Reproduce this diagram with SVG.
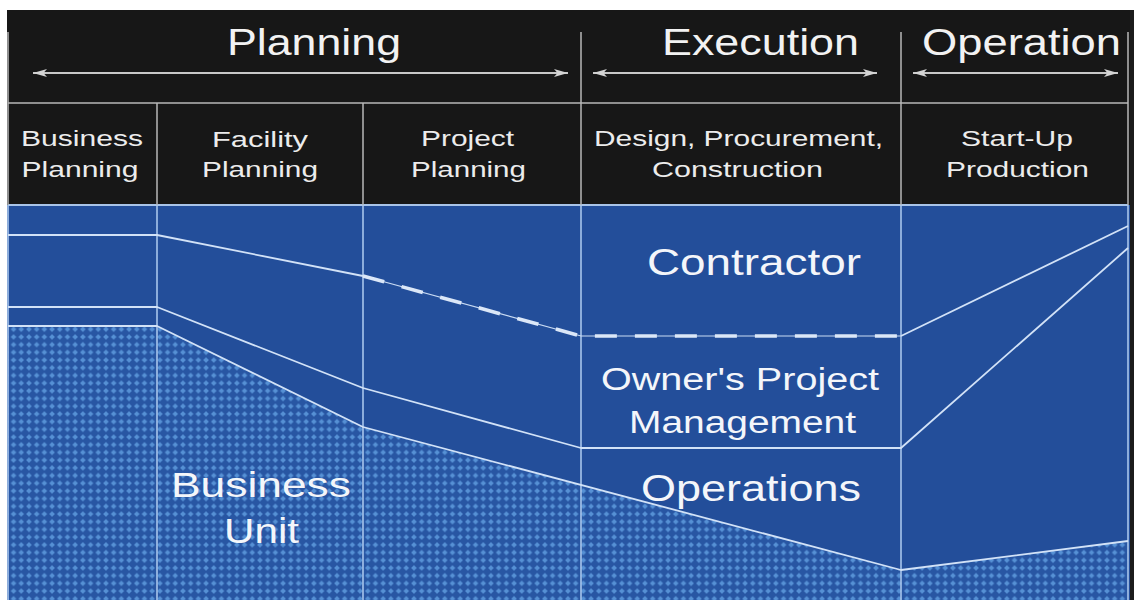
<svg xmlns="http://www.w3.org/2000/svg" width="1134" height="600" viewBox="0 0 1134 600">
  <style>
    text { font-family: "Liberation Sans", Arial, sans-serif; text-anchor: middle; }
    .title { font-size: 37px; fill: #f2f2f2; }
    .cell { font-size: 22px; fill: #ececec; }
    .label { fill: #f4f6fa; }
    .grid { stroke: #b9b9b9; stroke-width: 1.5; fill: none; }
    .vline { stroke: #a8c6ec; stroke-width: 1.6; fill: none; }
    .bound { stroke: #d2e2f7; stroke-width: 1.8; fill: none; stroke-linejoin: round; }
    .thin { stroke: #c9dbf3; stroke-width: 1.2; fill: none; }
    .dash { stroke: #dbe7f8; stroke-width: 3.6; fill: none; stroke-dasharray: 22 18; }
    .arrow { stroke: #c8c8c8; stroke-width: 2; fill: none; marker-start: url(#head); marker-end: url(#head); }
  </style>
  <defs>
    <marker id="head" viewBox="0 0 14 8" refX="14" refY="4" markerWidth="14" markerHeight="8" markerUnits="userSpaceOnUse" orient="auto-start-reverse">
      <path d="M0,0 L14,4 L0,8 L3.5,4 z" fill="#d4d4d4"/>
    </marker>
    <pattern id="dots" width="7.7" height="7.7" patternUnits="userSpaceOnUse" x="2" y="2">
      <rect width="7.7" height="7.7" fill="#2856a3"/>
      <circle cx="3.85" cy="3.85" r="2" fill="#5a95d9"/>
      <rect x="3.3" y="1.2" width="1.1" height="5.3" fill="#5590d5"/>
      <rect x="1.2" y="3.3" width="5.3" height="1.1" fill="#5590d5"/>
    </pattern>
  </defs>

  <!-- page and panels -->
  <rect width="1134" height="600" fill="#ffffff"/>
  <rect x="7" y="10" width="1127" height="195" fill="#171717"/>
  <rect x="7" y="205" width="1127" height="395" fill="#234e9a"/>
  <rect x="1130" y="10" width="4" height="590" fill="#1c1c1c"/>

  <!-- business unit share (dotted) -->
  <polygon points="8,326 157,326 363,427 901,570 1128,541 1128,600 8,600" fill="url(#dots)"/>

  <!-- header grid -->
  <g id="grid">
    <line class="grid" x1="8" y1="103" x2="1128" y2="103"/>
    <line x1="8" y1="205" x2="1128" y2="205" stroke="#a9c4e8" stroke-width="2"/>
    <line class="grid" x1="8" y1="32" x2="8" y2="205"/>
    <line class="grid" x1="157" y1="103" x2="157" y2="205"/>
    <line class="grid" x1="363" y1="103" x2="363" y2="205"/>
    <line class="grid" x1="581" y1="32" x2="581" y2="205"/>
    <line class="grid" x1="901" y1="32" x2="901" y2="205"/>
    <line class="grid" x1="1128" y1="32" x2="1128" y2="205"/>
    <line class="vline" x1="8" y1="205" x2="8" y2="600"/>
    <line class="vline" x1="157" y1="205" x2="157" y2="600"/>
    <line class="vline" x1="363" y1="205" x2="363" y2="600"/>
    <line class="vline" x1="581" y1="205" x2="581" y2="600"/>
    <line class="vline" x1="901" y1="205" x2="901" y2="600"/>
    <line class="vline" x1="1128" y1="205" x2="1128" y2="600"/>
  </g>

  <!-- share boundaries -->
  <g id="boundaries">
    <polyline class="bound" points="8,235 157,235 363,276"/>
    <polyline class="thin" points="363,276 581,336 901,336"/>
    <polyline class="dash" points="363,276 581,336 901,336"/>
    <line class="bound" x1="901" y1="336" x2="1128" y2="226"/>
    <polyline class="bound" points="8,307 157,307 363,388 581,448 901,448 1128,248"/>
    <polyline class="bound" points="8,326 157,326 363,427 901,570 1128,541"/>
  </g>

  <!-- phase arrows -->
  <g id="connectors">
    <line class="arrow" x1="33" y1="73" x2="568" y2="73"/>
    <line class="arrow" x1="593" y1="73" x2="877" y2="73"/>
    <line class="arrow" x1="913" y1="73" x2="1118" y2="73"/>
  </g>

  <!-- phases -->
  <g id="phase-planning"><text class="title" x="314" y="55" textLength="174" lengthAdjust="spacingAndGlyphs">Planning</text></g>
  <g id="phase-execution"><text class="title" x="760.5" y="55" textLength="197" lengthAdjust="spacingAndGlyphs">Execution</text></g>
  <g id="phase-operation"><text class="title" x="1021.5" y="55" textLength="199" lengthAdjust="spacingAndGlyphs">Operation</text></g>

  <!-- stages -->
  <g id="stage-business-planning">
    <text class="cell" x="82" y="146" textLength="122" lengthAdjust="spacingAndGlyphs">Business</text>
    <text class="cell" x="80" y="177" textLength="117" lengthAdjust="spacingAndGlyphs">Planning</text>
  </g>
  <g id="stage-facility-planning">
    <text class="cell" x="260" y="147" textLength="96" lengthAdjust="spacingAndGlyphs">Facility</text>
    <text class="cell" x="260" y="177" textLength="116" lengthAdjust="spacingAndGlyphs">Planning</text>
  </g>
  <g id="stage-project-planning">
    <text class="cell" x="467.5" y="146" textLength="93" lengthAdjust="spacingAndGlyphs">Project</text>
    <text class="cell" x="468.5" y="177" textLength="115" lengthAdjust="spacingAndGlyphs">Planning</text>
  </g>
  <g id="stage-dpc">
    <text class="cell" x="738.5" y="146" textLength="289" lengthAdjust="spacingAndGlyphs">Design, Procurement,</text>
    <text class="cell" x="737.5" y="177" textLength="171" lengthAdjust="spacingAndGlyphs">Construction</text>
  </g>
  <g id="stage-startup">
    <text class="cell" x="1017" y="146" textLength="112" lengthAdjust="spacingAndGlyphs">Start-Up</text>
    <text class="cell" x="1017.5" y="177" textLength="143" lengthAdjust="spacingAndGlyphs">Production</text>
  </g>

  <!-- parties -->
  <g id="party-contractor">
    <text class="label" x="754" y="275" font-size="37" textLength="214" lengthAdjust="spacingAndGlyphs">Contractor</text>
  </g>
  <g id="party-owner-pm">
    <text class="label" x="740" y="390" font-size="31" textLength="278" lengthAdjust="spacingAndGlyphs">Owner's Project</text>
    <text class="label" x="742.5" y="433" font-size="31" textLength="227" lengthAdjust="spacingAndGlyphs">Management</text>
  </g>
  <g id="party-operations">
    <text class="label" x="751" y="501" font-size="36" textLength="220" lengthAdjust="spacingAndGlyphs">Operations</text>
  </g>
  <g id="party-business-unit">
    <text class="label" x="261" y="497" font-size="35" textLength="180" lengthAdjust="spacingAndGlyphs">Business</text>
    <text class="label" x="261.5" y="543" font-size="35" textLength="75" lengthAdjust="spacingAndGlyphs">Unit</text>
  </g>
</svg>
